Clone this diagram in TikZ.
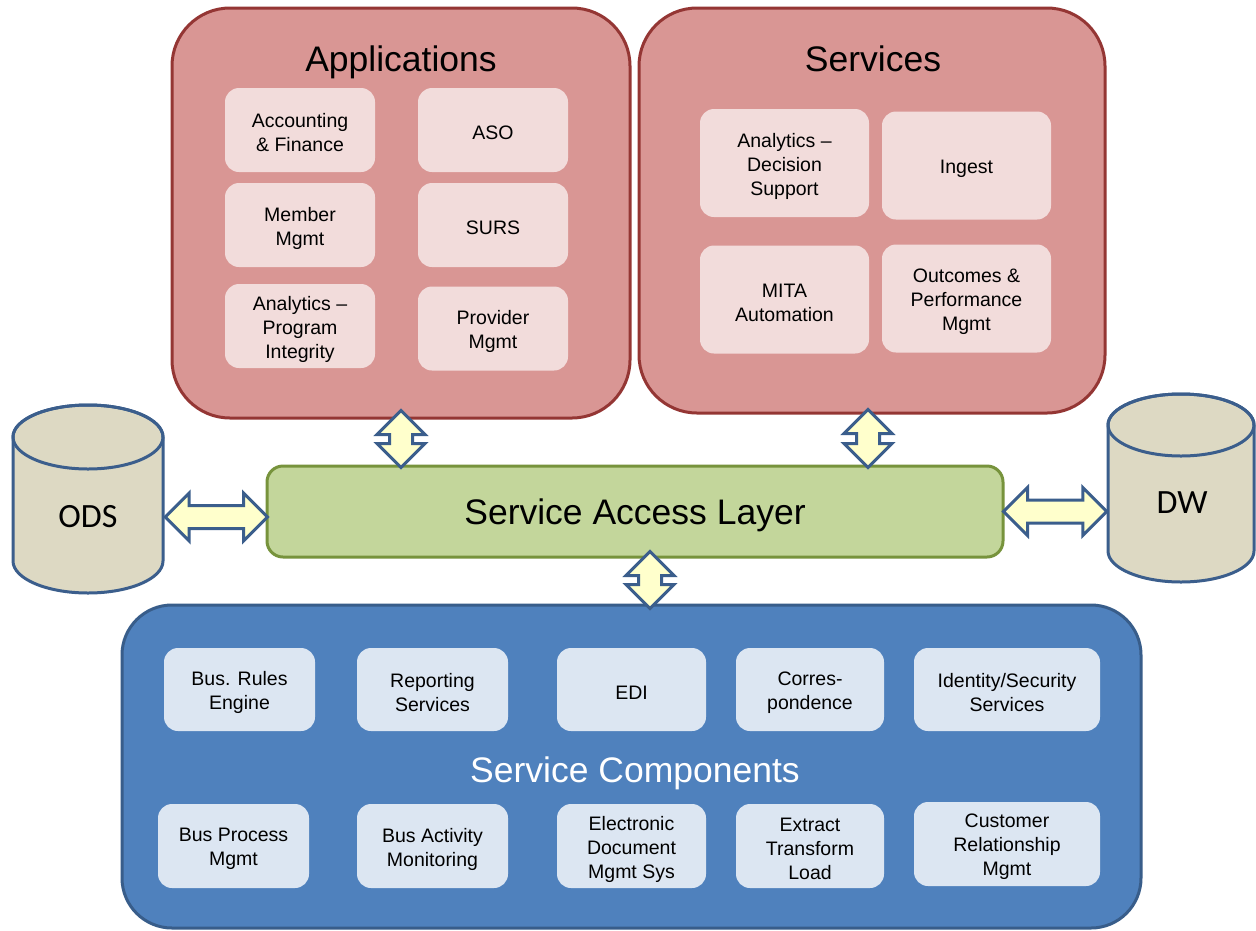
\documentclass[tikz,border=0pt]{standalone}
\usepackage{fontspec}
\setmainfont{Liberation Sans}
\newfontfamily\dbfont{Carlito}
\usetikzlibrary{calc}

\definecolor{appfill}{HTML}{D99694}
\definecolor{appline}{HTML}{943634}
\definecolor{apptile}{HTML}{F2DCDB}
\definecolor{salfill}{HTML}{C3D69B}
\definecolor{salline}{HTML}{77933C}
\definecolor{compfill}{HTML}{4F81BD}
\definecolor{compline}{HTML}{385D8A}
\definecolor{comptile}{HTML}{DCE6F2}
\definecolor{dbfill}{HTML}{DDD9C3}
\definecolor{dbline}{HTML}{3B5E8C}
\definecolor{linkfill}{HTML}{FFFFCC}
\definecolor{linkline}{HTML}{3B5E8C}

\newcommand\tilefont{\fontsize{19.5}{24}\selectfont}
\newcommand\titlefont{\fontsize{35.5}{40}\selectfont}
\newcommand\dbtextfont{\dbfont\fontsize{34}{40}\selectfont}

% double-headed block arrow between two named points
\newcommand\fatlink[2]{%
  \path ($(#1)!24pt!(#2)$) coordinate (fa-h1) ($(#2)!24pt!(#1)$) coordinate (fa-h2);
  \filldraw[linkarrow] (#1)
    -- ($(fa-h1)!24pt!90:(#2)$) -- ($(fa-h1)!11.5pt!90:(#2)$)
    -- ($(fa-h2)!11.5pt!-90:(#1)$) -- ($(fa-h2)!24pt!-90:(#1)$)
    -- (#2)
    -- ($(fa-h2)!24pt!90:(#1)$) -- ($(fa-h2)!11.5pt!90:(#1)$)
    -- ($(fa-h1)!11.5pt!-90:(#2)$) -- ($(fa-h1)!24pt!-90:(#2)$)
    -- cycle;}

\tikzset{
  wh/.style 2 args={minimum width=#1pt, minimum height=#2pt},
  panel/.style={rectangle, inner sep=0pt, line width=3pt},
  redpanel/.style={panel, rounded corners=58pt, draw=appline, fill=appfill},
  tiletext/.style={align=center, font=\tilefont, text=black, inner sep=0pt, yshift=-3pt},
  tile/.style={rectangle, inner sep=0pt, rounded corners=14pt, label={[tiletext]center:{#1}}},
  pinktile/.style={tile={#1}, fill=apptile},
  bluetile/.style={tile={#1}, fill=comptile},
  paneltitle/.style={font=\titlefont, anchor=base, inner sep=0pt},
  linkarrow/.style={draw=linkline, fill=linkfill, line width=3pt, line join=miter},
  db/.style={draw=dbline, fill=dbfill, line width=3pt},
}

\begin{document}
\begin{tikzpicture}[x=1pt, y=-1pt]
\useasboundingbox (0,0) rectangle (1256,930);
\fill[white] (0,0) rectangle (1256,930);

% Applications panel
\node[redpanel, wh={458}{410}] (apps) at (401,213) {};
\node[paneltitle] (appstitle) at (401,71) {Applications};
\node[pinktile={Accounting\\\& Finance}, wh={150}{84}] (acc) at (300,130) {};
\node[pinktile={ASO}, wh={150}{84}] (aso) at (493,130) {};
\node[pinktile={Member\\Mgmt}, wh={150}{84}] (mem) at (300,225) {};
\node[pinktile={SURS}, wh={150}{84}] (surs) at (493,225) {};
\node[pinktile={Analytics –\\Program\\Integrity}, wh={150}{84}] (api) at (300,326) {};
\node[pinktile={Provider\\Mgmt}, wh={150}{84}] (prov) at (493,328.5) {};

% Services panel
\node[redpanel, wh={466}{405}] (svc) at (872,210.5) {};
\node[paneltitle] (svctitle) at (873,71) {Services};
\node[pinktile={Analytics –\\Decision\\Support}, wh={169}{108}] (ads) at (784.5,163) {};
\node[pinktile={Ingest}, wh={169}{108}] (ing) at (966.5,165.5) {};
\node[pinktile={MITA\\Automation}, wh={169}{108}] (mita) at (784.5,299.5) {};
\node[pinktile={Outcomes \&\\Performance\\Mgmt}, wh={169}{108}] (opm) at (966.5,298.5) {};

% Service access layer
\node[panel, rounded corners=16pt, draw=salline, fill=salfill, wh={736}{91}, font=\titlefont, text depth=0pt] (sal) at (635,511.5) {Service Access Layer};

% Service components panel
\node[panel, rounded corners=50pt, draw=compline, fill=compfill, wh={1019}{323}] (comps) at (631.5,766.5) {};
\node[paneltitle, text=white] (compstitle) at (635,782) {Service Components};
\node[bluetile={Bus. Rules\\Engine}, wh={151}{83}] (brul) at (239.5,689.5) {};
\node[bluetile={Reporting\\Services}, wh={151}{83}] (rep) at (432.5,689.5) {};
\node[bluetile={EDI}, wh={149}{83}] (edi) at (631.5,689.5) {};
\node[bluetile={Corres-\\pondence}, wh={148}{83}] (corr) at (810,689.5) {};
\node[bluetile={Identity/Security\\Services}, wh={186}{83}] (idsec) at (1007,689.5) {};
\node[bluetile={Bus Process\\Mgmt}, wh={151}{84}] (bpm) at (233.5,846) {};
\node[bluetile={Bus Activity\\Monitoring}, wh={151}{84}] (bam) at (432.5,846) {};
\node[bluetile={Electronic\\Document\\Mgmt Sys}, wh={149}{84}] (edms) at (631.5,846) {};
\node[bluetile={Extract\\Transform\\Load}, wh={148}{84}] (etl) at (810,846) {};
\node[bluetile={Customer\\Relationship\\Mgmt}, wh={186}{84}] (crm) at (1007,844) {};

% ODS store
\filldraw[db] (13,437) -- (13,561)
  arc[start angle=180, end angle=360, x radius=75pt, y radius=32pt] -- (163,437)
  arc[start angle=0, end angle=180, x radius=75pt, y radius=32pt] -- cycle;
\draw[db, fill=none] (88,437) ellipse[x radius=75pt, y radius=32pt];
\node[inner sep=0pt, wh={150}{188}] (ods) at (88,499) {};
\node[font=\dbtextfont] (odstext) at (88,517) {ODS};

% DW store
\filldraw[db] (1108,425) -- (1108,551)
  arc[start angle=180, end angle=360, x radius=73pt, y radius=31pt] -- (1254,425)
  arc[start angle=0, end angle=180, x radius=73pt, y radius=31pt] -- cycle;
\draw[db, fill=none] (1181,425) ellipse[x radius=73pt, y radius=31pt];
\node[inner sep=0pt, wh={146}{188}] (dw) at (1181,488) {};
\node[font=\dbtextfont] (dwtext) at (1182,503) {DW};

% connector end points
\coordinate (l1a) at ($(apps.south)+(0,-9)$);
\coordinate (l1b) at ($(apps.south |- sal.north)+(0,3)$);
\coordinate (l2a) at ($(svc.south)+(-4,-5)$);
\coordinate (l2b) at ($(l2a |- sal.north)+(0,3)$);
\coordinate (l3a) at ($(sal.south)+(15,-7)$);
\coordinate (l3b) at ($(l3a |- comps.north)+(0,5)$);
\coordinate (l4a) at ($(ods.east |- odstext)+(2,0)$);
\coordinate (l4b) at ($(sal.west |- odstext)+(2,0)$);
\coordinate (l5a) at ($(sal.east)+(-1,0)$);
\coordinate (l5b) at ($(dw.west |- sal.east)+(-1,0)$);

% block arrows
\fatlink{l1a}{l1b}
\fatlink{l2a}{l2b}
\fatlink{l3a}{l3b}
\fatlink{l4a}{l4b}
\fatlink{l5a}{l5b}
\end{tikzpicture}
\end{document}
